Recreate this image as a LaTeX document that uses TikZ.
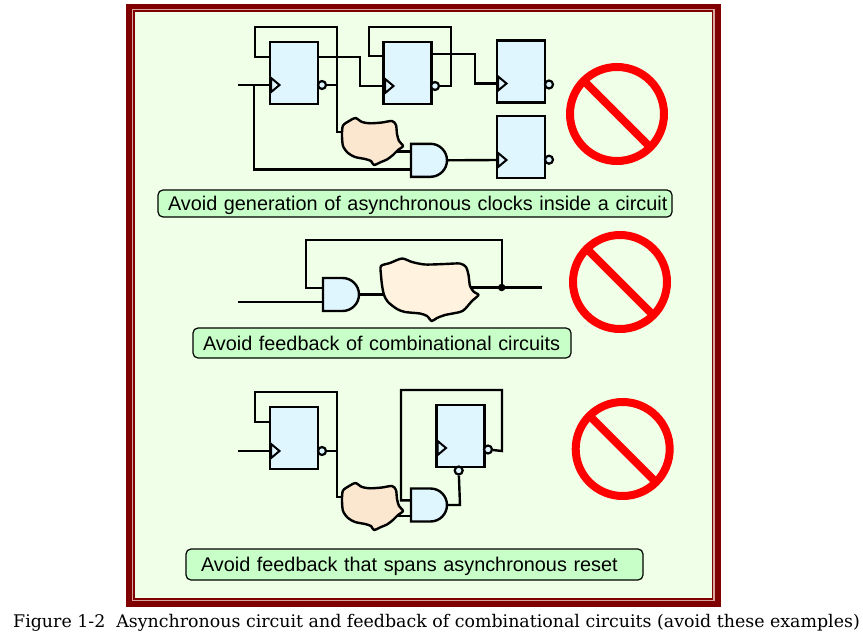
\documentclass[tikz,border=0pt]{standalone}
\usepackage{fontspec}
\setmainfont{Liberation Sans}
\newfontfamily\capfont{DejaVu Serif}
\usepackage{tikz}
\usetikzlibrary{shapes,positioning}
\definecolor{framered}{HTML}{800000}
\definecolor{framepale}{HTML}{D8A8A0}
\definecolor{panelgreen}{HTML}{F0FFE8}
\definecolor{pillgreen}{HTML}{C8FFC8}
\definecolor{partblue}{HTML}{DFF6FF}
\definecolor{blobpeach}{HTML}{FBE6CF}
\definecolor{blobpale}{HTML}{FFF2DF}
\tikzset{
  wire/.style={line width=2.4pt,line join=miter},
  ffbox/.style={draw,line width=2.4pt,fill=partblue,minimum width=48pt,minimum height=62pt,inner sep=0pt},
  clkmark/.style={draw,line width=2pt,isosceles triangle,isosceles triangle apex angle=80,inner sep=0pt,minimum height=8.5pt,anchor=lower side},
  notbub/.style={draw,circle,line width=2.2pt,fill=partblue,minimum size=8pt,inner sep=0pt},
  andbox/.style={draw,rounded rectangle,rounded rectangle left arc=none,line width=2.4pt,fill=partblue,inner sep=0pt,minimum width=36pt,minimum height=33pt},
  blobpart/.style={draw,line width=2.4pt,line join=round},
  pill/.style={draw,line width=1.2pt,fill=pillgreen,rounded corners=5pt,inner xsep=10pt,inner ysep=0pt,align=left,text height=18pt,text depth=4pt,font=\fontsize{19.85pt}{22pt}\selectfont},
  nosign/.style={draw=red,circle,line width=8pt,minimum size=94pt,inner sep=0pt},
  nobar/.style={draw=red,line width=8pt,shorten >=4pt,shorten <=4pt},
  dotjoin/.style={fill,circle,minimum size=7.5pt,inner sep=0pt}
}
\begin{document}
\begin{tikzpicture}[x=1pt,y=-1pt]
\useasboundingbox (0,0) rectangle (863,632);
%draw frame
    \fill[framered] (126,4) rectangle (720.7,606.7);
    \fill[framepale] (132,9) rectangle (714.5,601);
    \fill[framered] (133.3,10.3) rectangle (713.3,599.7);
    \fill[panelgreen] (135,12) rectangle (711.6,598);
%draw flip-flops
    \node[ffbox] (ffa) at (294,73) {};
    \node[ffbox] (ffb) at (407.5,73) {};
    \node[ffbox] (ffc) at (521,71.5) {};
    \node[ffbox] (ffd) at (521,147) {};
    \node[ffbox] (ffe) at (294,438) {};
    \node[ffbox] (fff) at (460.5,436) {};
%draw clock marks
    \node[clkmark] (clka) at (270,85) {};
    \node[clkmark] (clkb) at (384,86) {};
    \node[clkmark] (clkc) at (497,83.5) {};
    \node[clkmark] (clkd) at (497,160) {};
    \node[clkmark] (clke) at (270,451) {};
    \node[clkmark] (clkf) at (436.5,448) {};
%draw inverting outputs
    \node[notbub] (buba) at (322,85) {};
    \node[notbub] (bubb) at (435,86) {};
    \node[notbub] (bubc) at (549,84.5) {};
    \node[notbub] (bubd) at (549,159.7) {};
    \node[notbub] (bube) at (322,451) {};
    \node[notbub] (bubf) at (488,449.5) {};
    \node[notbub] (bubr) at (458.7,470.5) {};
%draw and gates
    \node[andbox] (anda) at (429,160.3) {};
    \node[andbox] (andb) at (341,294.5) {};
    \node[andbox] (andc) at (429,505) {};
%wire free ends
    \coordinate (ina) at (238,85);
    \coordinate (tapa) at (254,85);
    \coordinate (inb) at (238,302);
    \coordinate (outb) at (542,287.5);
    \coordinate (ine) at (238,451);
    \coordinate (joinb) at (501.7,287.5);
%wires of the first circuit
    \draw[wire] (ina) -- (clka.lower side);
    \draw[wire] (tapa) -- (254,169.3) -- (anda.west |- 0,169.3);
    \draw[wire] (ffa.west |- 0,57) -- (255,57) -- (255,27) -- (337,27) -- (337,85);
    \draw[wire] (buba) -- (337,85) -- (337,132) -- (345,132);
    \draw[wire] (ffa.east |- 0,57) -- (360,57) -- (360,86) -- (clkb.lower side);
    \draw[wire] (ffb.west |- 0,56) -- (369,56) -- (369,27) -- (451,27) -- (451,86) -- (bubb);
    \draw[wire] (ffb.east |- 0,54) -- (475,54) -- (475,83.5) -- (clkc.lower side);
    \draw[wire] (395,151.3) -- (anda.west |- 0,151.3);
    \draw[wire] (anda.east) -- (clkd.lower side);
%wires of the second circuit
    \draw[wire] (inb) -- (andb.west |- 0,302);
    \draw[wire] (andb.west |- 0,287.7) -- (306,287.7) -- (306,240) -- (501.7,240) -- (joinb);
    \draw[wire] (andb.east) -- (384,294.5);
    \draw[wire] (468,287.5) -- (outb);
%wires of the third circuit
    \draw[wire] (ine) -- (clke.lower side);
    \draw[wire] (ffe.west |- 0,421.7) -- (255,421.7) -- (255,392) -- (337,392) -- (337,451);
    \draw[wire] (bube) -- (337,451) -- (337,497) -- (345,497);
    \draw[wire] (andc.west |- 0,500.3) -- (401,500.3) -- (401,390) -- (502,390) -- (502,451) -- (bubf);
    \draw[wire] (396,516) -- (andc.west |- 0,516);
    \draw[wire] (andc.east) -- (460,505) -- (bubr);
%draw combinational clouds
    \path[blobpart,fill=blobpeach] plot[smooth cycle,tension=.45] coordinates {(343,125.5) (350,120.5) (355.5,118) (362,122) (370,123.3) (382,122.5) (392,121) (396,125) (397,134) (399,141) (403,146) (398,150) (393,155) (387,159.5) (381,162) (374,165) (371,161) (365,159) (355,157) (348,153) (343,146) (342,135)};
    \path[blobpart,fill=blobpale] plot[smooth cycle,tension=.45] coordinates {(381,266) (390,263) (402,258.5) (412,262) (425,264.5) (445,264) (460,263.5) (466,267) (468.5,275) (470,286) (474,292) (478.5,295) (472,301) (465,309) (460,312) (445,315) (437,318) (431.7,321) (427,316) (420,313.5) (405,312) (397,309) (388,302) (384,295) (382,285) (381,275)};
    \path[blobpart,fill=blobpeach,shift={(0,365)}] plot[smooth cycle,tension=.45] coordinates {(343,125.5) (350,120.5) (355.5,118) (362,122) (370,123.3) (382,122.5) (392,121) (396,125) (397,134) (399,141) (403,146) (398,150) (393,155) (387,159.5) (381,162) (374,165) (371,161) (365,159) (355,157) (348,153) (343,146) (342,135)};
    \node[dotjoin] (dotb) at (joinb) {};
%draw no-entry signs
    \node[nosign] (signa) at (617,114) {};
    \draw[nobar] (signa.135) -- (signa.-45);
    \node[nosign] (signb) at (620,282) {};
    \draw[nobar] (signb.135) -- (signb.-45);
    \node[nosign] (signc) at (622.7,449) {};
    \draw[nobar] (signc.135) -- (signc.-45);
%insert labels
    \node[pill,text width=494pt,minimum height=27pt] (pilla) at (415,203.5) {\mbox{Avoid generation of asynchronous clocks inside a circuit}};
    \node[pill,text width=358pt,minimum height=30pt] (pillb) at (382,343) {Avoid feedback of combinational circuits};
    \node[pill,inner xsep=15pt,text width=427pt,minimum height=31pt] (pillc) at (414.5,564.5) {Avoid feedback that spans asynchronous reset};
    \node[anchor=base west,inner sep=0pt,font=\capfont\fontsize{17.4pt}{19pt}\selectfont] (figcap) at (13,627) {Figure 1-2\ \ Asynchronous circuit and feedback of combinational circuits (avoid these examples)};
\end{tikzpicture}
\end{document}
